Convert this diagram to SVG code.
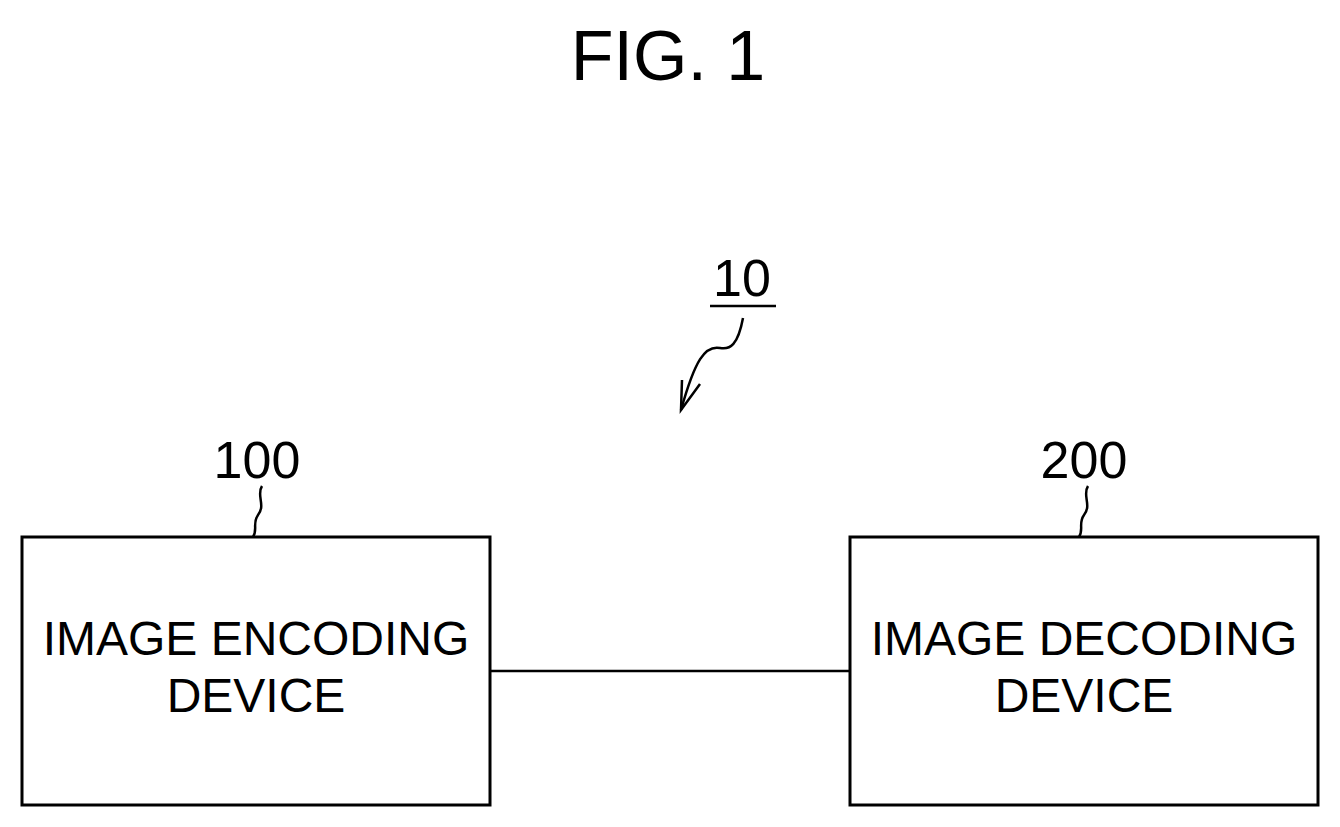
<svg xmlns="http://www.w3.org/2000/svg" width="1340" height="827" viewBox="0 0 1340 827">
<style>
text{font-family:"Liberation Sans",Arial,sans-serif;fill:#000;text-anchor:middle}
.box{fill:#fff;stroke:#000;stroke-width:3}
.ln{fill:none;stroke:#000;stroke-width:2.5}
.lbl{font-size:48px}
.ref{font-size:52px}
</style>
<rect width="1340" height="827" fill="#fff"/>
<text x="668" y="80" font-size="70">FIG. 1</text>
<g id="ref10">
<text x="742" y="296" class="ref">10</text>
<line x1="710" y1="306" x2="776" y2="306" class="ln" stroke-width="4"/>
</g>
<g id="connectors">
<line x1="490" y1="671" x2="850" y2="671" class="ln" stroke-width="3"/>
<path d="M743 318 C738 345 730 350 720 348 C705 345 695 360 681 410" class="ln"/>
<path d="M682 380 L681 410 L700 384" class="ln"/>
<path d="M262 486 C256 495 266 505 258 515 C252 523 258 530 253 537" class="ln"/>
<path d="M1088 486 C1082 495 1092 505 1084 515 C1078 523 1084 530 1079 537" class="ln"/>
</g>
<g id="n100">
<text x="257" y="478" class="ref">100</text>
<rect x="22" y="537" width="468" height="268" class="box"/>
<text x="256" y="655" class="lbl">IMAGE ENCODING</text>
<text x="256" y="712" class="lbl">DEVICE</text>
</g>
<g id="n200">
<text x="1084" y="478" class="ref">200</text>
<rect x="850" y="537" width="468" height="268" class="box"/>
<text x="1084" y="655" class="lbl">IMAGE DECODING</text>
<text x="1084" y="712" class="lbl">DEVICE</text>
</g>
</svg>
